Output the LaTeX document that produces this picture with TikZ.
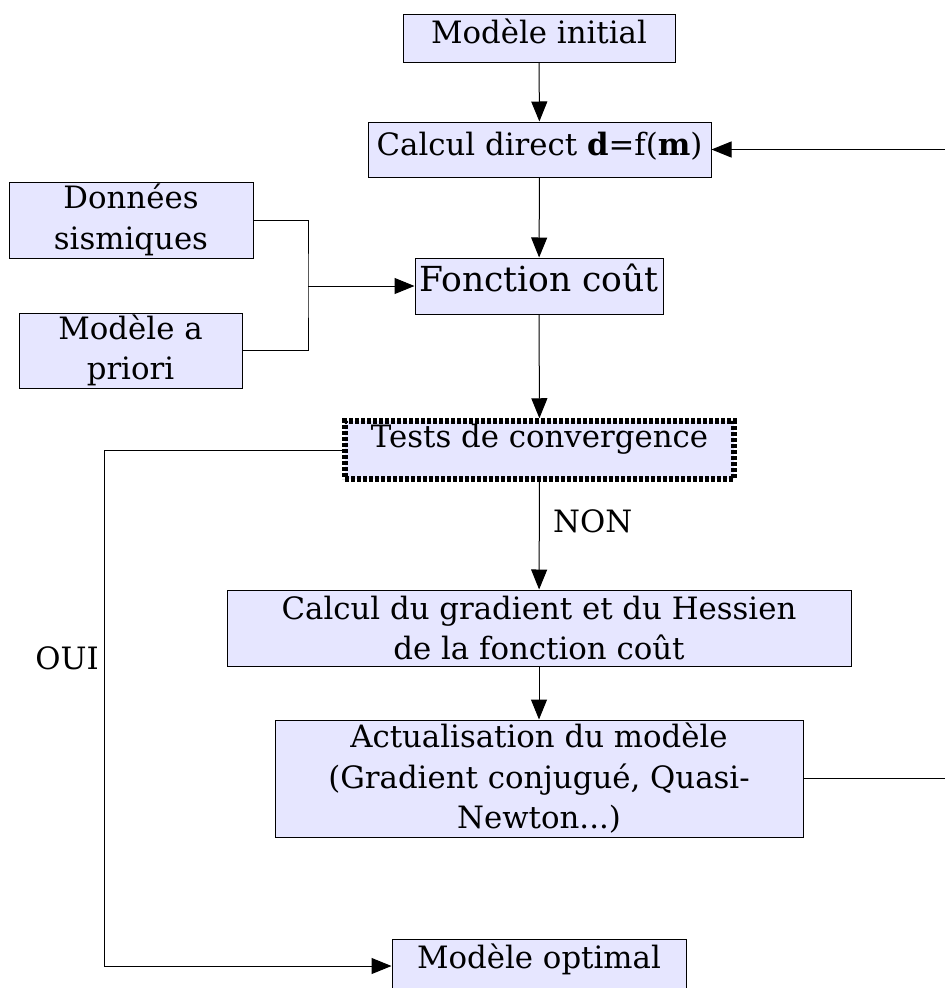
\documentclass[tikz,border=0pt]{standalone}
\usepackage{fontspec}
\setmainfont{DejaVu Serif}
\usetikzlibrary{arrows.meta,positioning}
\definecolor{boxfill}{RGB}{230,230,255}

\begin{document}
\begin{tikzpicture}[
  x=1pt, y=-1pt,
  box/.style={rectangle, draw, line width=1pt, fill=boxfill, inner sep=0pt, align=center,
    font=\fontsize{30.8}{40.5}\selectfont},
  oneline/.style={box, text height=23pt, text depth=#1},
  oneline/.default=12pt,
  testbox/.style={oneline=29pt, line width=5.5pt, dash pattern=on 4pt off 2pt},
  flow label/.style={font=\fontsize{30.8}{40.5}\selectfont},
  >={Triangle[length=20pt,width=16pt]}, line width=1pt
]
  \useasboundingbox (0,0) rectangle (945,988);
  \clip (0,0) rectangle (945,988);

  \node[oneline, minimum width=272, minimum height=48] (init) at (539,38) {Modèle initial};
  \node[oneline, minimum width=343, minimum height=55] (direct) at (539.5,149.5)
    {Calcul direct \textbf{d}=f(\textbf{m})};
  \node[box, minimum width=244, minimum height=76] (donnees) at (131,220) {Données\\sismiques};
  \node[box, minimum width=223, minimum height=75] (priori) at (130.5,350.5) {Modèle a\\priori};
  \node[box, minimum width=248, minimum height=56, text height=25pt, text depth=15pt,
    font=\fontsize{34.5}{40}\selectfont] (cout) at (539,286) {Fonction coût};
  \node[testbox, minimum width=389, minimum height=58] (tests) at (539.5,450)
    {Tests de convergence};
  \node[box, minimum width=624, minimum height=76] (grad) at (539,628)
    {Calcul du gradient et du Hessien\\de la fonction coût};
  \node[box, minimum width=528, minimum height=117] (actu) at (539,778.5)
    {Actualisation du modèle\\ (Gradient conjugué, Quasi-\\Newton...)};
  \node[box, minimum width=294, text height=29pt, text depth=25pt] (opt) at (539,966)
    {Modèle optimal};

  \coordinate (join) at (308,286);
  \coordinate (rightout) at (945,778.5);
  \coordinate (rightin) at (945,149.5);
  \coordinate (corner) at (104,966);

  % main chain
  \draw[->] (init) -- (direct);
  \draw[->] (direct) -- (cout);
  \draw[->] (cout) -- (tests);
  \draw[->] (tests) -- node[flow label, right=10pt, pos=0.37] {NON} (grad);
  \draw[->] (grad) -- (actu);

  % data and prior into the cost function
  \draw (donnees.east) -| (join) |- (priori.east);
  \draw[->] (join) -- (cout.west);

  % loop back and exit
  \draw (actu.east) -- (rightout);
  \draw[->] (rightin) -- (direct.east);
  \draw[->] (tests.west) -| (corner) -- (opt.west);
  \node[flow label] (oui) at (67,658) {OUI};
\end{tikzpicture}
\end{document}
